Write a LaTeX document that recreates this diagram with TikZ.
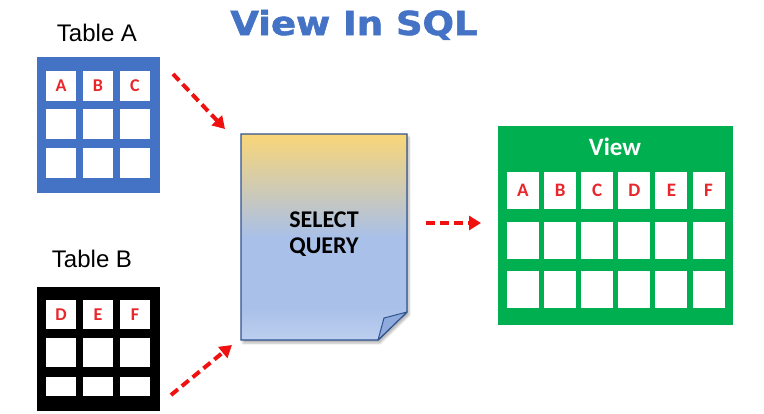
\documentclass[tikz,border=0pt]{standalone}
\usepackage{fontspec}
\setmainfont{Liberation Sans}
\newfontfamily\calfont{Carlito}
\newfontfamily\verdfont[BoldFeatures={FakeBold=1.6}]{DejaVu Sans}
\usetikzlibrary{arrows.meta,positioning,shadows.blur}
\definecolor{tblue}{HTML}{4472C4}
\definecolor{vgreen}{HTML}{00B050}
\definecolor{lred}{HTML}{E8262B}
\definecolor{ared}{HTML}{F01010}
\definecolor{qedge}{HTML}{2F528F}
\definecolor{qtop}{HTML}{F9D678}
\definecolor{qblue}{HTML}{A9C0E8}
\definecolor{qlight}{HTML}{BCCFEF}
\definecolor{qfold}{HTML}{8FAADC}
\pgfdeclareverticalshading{querygrad}{100bp}{color(0bp)=(qlight); color(25bp)=(qlight);
  color(33bp)=(qblue); color(50bp)=(qblue); color(75bp)=(qtop); color(100bp)=(qtop)}

\begin{document}
\begin{tikzpicture}[x=1pt,y=-1pt,
  frame/.style={minimum width=123pt,inner sep=0pt},
  cell/.style={fill=white,inner sep=0pt,minimum width=30pt,minimum height=30pt,
    font=\calfont\bfseries\fontsize{18}{18}\selectfont,text=lred},
  vcell/.style={cell,minimum width=32pt,minimum height=37pt,
    font=\calfont\bfseries\fontsize{19}{19}\selectfont},
  lbl/.style={font=\fontsize{24}{24}\selectfont,anchor=base},
  a/.style={-{Triangle[length=12pt,width=14pt]},line width=4pt,draw=ared,
    dash pattern=on 9pt off 5pt}
]
\useasboundingbox (0,0) rectangle (764,413);

% title
\node[font=\verdfont\bfseries\fontsize{33}{33}\selectfont,text=tblue,anchor=base]
  (title) at (354,35) {\scalebox{1.12}[1]{View In SQL}};

% table A
\node[lbl] (labA) at (97,41) {Table A};
\node[frame,fill=tblue,minimum height=136pt] (tabA) at (98.5,125) {};
\foreach \l [count=\i] in {A,B,C} {
  \node[cell] (a\i-1) at ({61+37*(\i-1)},86) {\l};
  \node[cell] (a\i-2) at ({61+37*(\i-1)},124) {};
  \node[cell] (a\i-3) at ({61+37*(\i-1)},163) {};
}

% table B
\node[lbl] (labB) at (92,267) {Table B};
\node[frame,fill=black,minimum height=124pt] (tabB) at (98.5,349) {};
\foreach \l [count=\i] in {D,E,F} {
  \node[cell,minimum height=29pt] (b\i-1) at ({61+37*(\i-1)},314.5) {\l};
  \node[cell,minimum height=29pt] (b\i-2) at ({61+37*(\i-1)},352.5) {};
  \node[cell,minimum height=19pt] (b\i-3) at ({61+37*(\i-1)},386.5) {};
}

% select query document
\shadedraw[blur shadow={shadow xshift=2pt,shadow yshift=-3pt,shadow opacity=30},
  shading=querygrad,draw=qedge,line width=1.3pt]
  (241,134) -- (407,134) -- (407,312) -- (378,340) -- (241,340) -- cycle;
\filldraw[fill=qfold,draw=qedge,line width=1pt,line join=round]
  (407,312) -- (384,318) -- (378,340) -- cycle;
\node[font=\calfont\bfseries\fontsize{24}{25.5}\selectfont,align=center]
  (query) at (324,234) {SELECT\\QUERY};

% view
\node[fill=vgreen,minimum width=235pt,minimum height=199pt,inner sep=0pt]
  (view) at (615.5,225.5) {};
\node[font=\calfont\bfseries\fontsize{25}{25}\selectfont,text=white,anchor=base]
  (vtitle) at (615,155) {View};
\foreach \l [count=\i] in {A,B,C,D,E,F} {
  \node[vcell] (v\i-1) at ({523+37.1*(\i-1)},190.5) {\l};
  \node[vcell] (v\i-2) at ({523+37.1*(\i-1)},240) {};
  \node[vcell] (v\i-3) at ({523+37.1*(\i-1)},289.5) {};
}

% arrows
\coordinate (a1s) at (173,74);
\coordinate (a1e) at (225,129);
\coordinate (a2s) at (171,395);
\coordinate (a2e) at (232,345);
\coordinate (a3s) at (426,223);
\coordinate (a3e) at (481,223);
\draw[a] (a1s) -- (a1e);
\draw[a] (a2s) -- (a2e);
\draw[a] (a3s) -- (a3e);
\end{tikzpicture}
\end{document}
